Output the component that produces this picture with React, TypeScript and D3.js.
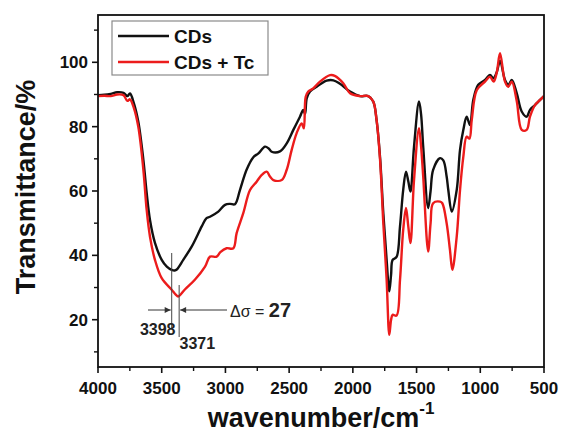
import React from "react";
import * as d3 from "d3";

const cdsWave = [4000,3950,3900,3850,3800,3770,3749,3720,3684,3644,3618,3592,3553,3500,3460,3422,3398,3382,3331,3265,3186,3150,3121,3056,3003,2964,2925,2886,2834,2781,2741,2689,2660,2637,2572,2519,2467,2415,2389,2375,2362,2336,2284,2206,2153,2101,2022,1944,1879,1840,1814,1787,1761,1735,1714,1700,1688,1657,1630,1605,1583,1565,1548,1520,1481,1465,1448,1409,1390,1370,1316,1290,1264,1251,1224,1185,1159,1133,1107,1081,1055,1016,963,924,898,870,845,806,780,753,714,675,636,610,571,531,500];
const cdsT = [89.8,89.9,90.2,90.7,90.5,89.5,90.3,87.5,81.6,69.7,59.4,51,43.9,38.6,36.5,35.5,35.3,35.6,38.6,42.7,49,51.5,52,53.6,55.7,56,55.9,60.3,66.6,70.5,71.7,73.8,73.2,72.2,72.3,74.8,79,83.1,85.2,84,88.8,90.9,92.4,94.3,94.4,93.3,90.9,89.5,89.5,87.8,82.1,70.7,53.1,38.6,28.8,34,38.6,39.5,49,60.3,66,63,59.8,73.8,87.8,84,73.8,54.7,60,66.6,70.2,69.5,64.5,60.3,53.6,60.3,72.8,79,83.1,80.5,88.3,93,94.5,96.1,95,97,100.5,94.5,93,94.5,90.4,84.7,83.1,85.2,86.7,88.3,89.5];

const tcWave = [4000,3950,3900,3850,3800,3770,3749,3720,3684,3644,3618,3592,3553,3500,3422,3390,3371,3320,3240,3160,3121,3069,3040,2991,2938,2912,2860,2807,2755,2715,2676,2650,2624,2558,2519,2480,2441,2402,2385,2370,2350,2311,2258,2179,2142,2075,2022,1944,1879,1840,1814,1787,1761,1735,1714,1700,1688,1657,1630,1605,1583,1565,1548,1520,1481,1465,1448,1409,1390,1370,1316,1298,1264,1238,1219,1185,1159,1133,1107,1085,1067,1027,963,924,895,870,845,806,780,753,714,675,636,610,571,531,500];
const tcT = [89.5,89.6,89.5,90,89.8,88,88.5,86,80,66.6,54.1,45.8,38.6,32.9,29.3,27.8,27.2,29.3,32.4,36.5,39.6,39.6,41,42.2,42.2,46.9,53.1,60.3,62.9,65,66,64.5,63.4,63.4,66.6,72.8,78,81,79.5,89.3,90.9,91.9,94,96,95.8,93.5,90.4,89.5,89.5,87.8,82.1,70,50,32.4,15.3,20,21.5,21.3,32.4,47.9,54.7,49,43.8,63.4,79.5,74,64.5,41.2,50,56.2,56.7,56.2,50,41.7,35.5,45.8,60.3,70.7,76.9,76.3,82.1,91.4,94,95.5,94,97,102.8,94,92.4,94,88,79,79,83.1,86.7,88.3,89.5];

const xTicks = [4000,3500,3000,2500,2000,1500,1000,500];
const xMinor = [3750,3250,2750,2250,1750,1250,750];
const yTicks = [20,40,60,80,100];
const yMinor = [10,30,50,70,90,110];
const seriesNames = ["CDs", "CDs + Tc"];
const peakMarks = [3398, 3371];
const deltaSigma = 27;

const W = 562, H = 434;
const L = 98, R = 544, T = 15, B = 367;
const FONT = "'Liberation Sans', Arial, Helvetica, sans-serif";
const RED = "#ec1c1c";

export default function App() {
  const x = d3.scaleLinear().domain([4000, 500]).range([L, R]);
  const y = d3.scaleLinear().domain([5.3, 114.7]).range([B, T]);
  const line = d3.line<[number, number]>().x(d => x(d[0])).y(d => y(d[1])).curve(d3.curveCatmullRom.alpha(0.5));
  const cds = cdsWave.map((w, i) => [w, cdsT[i]] as [number, number]);
  const tc = tcWave.map((w, i) => [w, tcT[i]] as [number, number]);
  const x1 = x(peakMarks[0]) - 3, x2 = x(peakMarks[1]) + 1;
  const arrowY = 310;
  return (
    <svg width={W} height={H} style={{ position: "absolute", left: 0, top: 0, display: "block", background: "#fff" }} fontFamily={FONT}>
      <defs>
        <marker id="ah" viewBox="0 0 10 10" refX="10" refY="5" markerWidth="7" markerHeight="6" orient="auto-start-reverse" markerUnits="userSpaceOnUse">
          <path d="M0,0 L10,5 L0,10 z" fill="#333" />
        </marker>
        <clipPath id="cp"><rect x={L} y={T} width={R - L} height={B - T} /></clipPath>
      </defs>
      <g clipPath="url(#cp)">
        <path d={line(cds) || ""} fill="none" stroke="#111" strokeWidth={2.4} strokeLinejoin="round" />
        <path d={line(tc) || ""} fill="none" stroke={RED} strokeWidth={2.4} strokeLinejoin="round" />
      </g>
      <rect x={L} y={T} width={R - L} height={B - T} fill="none" stroke="#111" strokeWidth={1.8} />
      {xTicks.map(t => (
        <g key={"xt" + t}>
          <line x1={x(t)} x2={x(t)} y1={B} y2={B + 6} stroke="#111" strokeWidth={1.6} />
          <text x={x(t)} y={394} textAnchor="middle" fontSize={17} fontWeight="bold" fill="#111">{t}</text>
        </g>
      ))}
      {xMinor.map(t => (
        <line key={"xm" + t} x1={x(t)} x2={x(t)} y1={B} y2={B + 4} stroke="#111" strokeWidth={1.4} />
      ))}
      {yTicks.map(t => (
        <g key={"yt" + t}>
          <line x1={L - 6} x2={L} y1={y(t)} y2={y(t)} stroke="#111" strokeWidth={1.6} />
          <text x={88} y={y(t) + 6} textAnchor="end" fontSize={17} fontWeight="bold" fill="#111">{t}</text>
        </g>
      ))}
      {yMinor.map(t => (
        <line key={"ym" + t} x1={L - 4} x2={L} y1={y(t)} y2={y(t)} stroke="#111" strokeWidth={1.4} />
      ))}
      <text x={321} y={427} textAnchor="middle" fontSize={27} fontWeight="bold" fill="#111">
        wavenumber/cm<tspan fontSize={17} dy={-13}>-1</tspan>
      </text>
      <text transform={`translate(35,187) rotate(-90)`} textAnchor="middle" fontSize={27} fontWeight="bold" fill="#111">Transmittance/%</text>
      {/* legend */}
      <rect x={112} y={21} width={156} height={54} fill="#fff" stroke="#8a8a8a" strokeWidth={1.2} />
      <line x1={118} x2={169} y1={36} y2={36} stroke="#111" strokeWidth={2.4} />
      <text x={174} y={43} fontSize={19} fontWeight="bold" fill="#111">{seriesNames[0]}</text>
      <line x1={118} x2={169} y1={62} y2={62} stroke={RED} strokeWidth={2.4} />
      <text x={174} y={69} fontSize={19} fontWeight="bold" fill="#111">{seriesNames[1]}</text>
      {/* annotation */}
      <line x1={x1} x2={x1} y1={253} y2={328} stroke="#444" strokeWidth={1} />
      <line x1={x2} x2={x2} y1={285} y2={337} stroke="#444" strokeWidth={1} />
      <line x1={148} x2={x1 - 1} y1={arrowY} y2={arrowY} stroke="#333" strokeWidth={1} markerEnd="url(#ah)" />
      <line x1={227} x2={x2 + 1} y1={arrowY} y2={arrowY} stroke="#333" strokeWidth={1} markerEnd="url(#ah)" />
      <text x={175.5} y={335} textAnchor="end" fontSize={16} fontWeight="bold" fill="#222">{peakMarks[0]}</text>
      <text x={179.5} y={348.5} fontSize={16} fontWeight="bold" fill="#222">{peakMarks[1]}</text>
      <text x={230} y={317} fontSize={16} fill="#222">Δσ = <tspan fontSize={20} fontWeight="bold">{deltaSigma}</tspan></text>
    </svg>
  );
}
